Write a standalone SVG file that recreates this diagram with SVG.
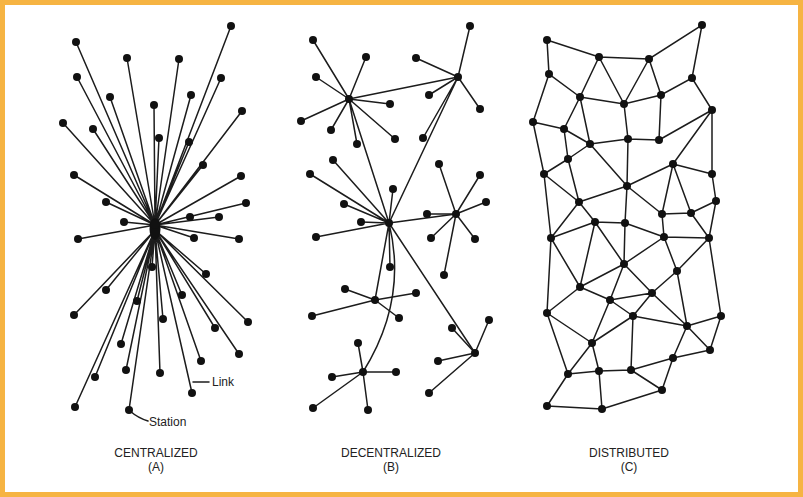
<svg xmlns="http://www.w3.org/2000/svg" width="803" height="497" viewBox="0 0 803 497">
<style>
.e{stroke:#1c1c1c;stroke-width:1.5;fill:none;stroke-linecap:round}
.n circle{fill:#111}
.t{font-family:"Liberation Sans",Arial,sans-serif;font-size:12px;fill:#222;text-anchor:middle}
.l{font-family:"Liberation Sans",Arial,sans-serif;font-size:12px;fill:#222}
</style>
<rect x="0" y="0" width="803" height="497" fill="#F6B443"/>
<rect x="5" y="5" width="793" height="487" fill="#ffffff"/>

<!-- ========== CONNECTORS ========== -->
<g id="connectors" class="e">
<!-- A: centralized -->
<g id="edges-a">
<path d="M155,225L231,26M155,225L76,42M155,225L127,58M155,225L179,59M155,225L77,77M155,225L221,78M155,225L110,97M155,225L191,95M155,225L154,105M155,225L242,111M155,225L63,123M155,225L93,129M155,225L159,138M155,225L189,142M155,225L203,165M155,225L74,175M155,225L241,176M155,225L106,202M155,225L246,203M155,225L124,222M155,225L219,217M155,225L78,239M155,225L194,238M155,225L239,239"/>
<path d="M155,230L152,267M155,230L206,274M155,230L106,290M155,230L137,301M155,230L182,295M155,230L74,315M155,230L163,319M155,230L248,322M155,230L215,328M155,230L121,344M155,230L239,354M155,230L201,361M155,230L126,370M155,230L160,373M155,230L95,377M155,230L192,393M155,230L75,407M155,230L129,410"/>
<path d="M193,382L209,382M130,411Q138,418 148,421"/>
</g>
<!-- B: decentralized -->
<g id="edges-b">
<path d="M349,99L313,40M349,99L366,57M349,99L316,77M349,99L390,104M349,99L301,121M349,99L331,130M349,99L395,139M349,99L357,144M349,99L458,77M349,99L389,223"/>
<path d="M458,77L470,26M458,77L416,58M458,77L429,95M458,77L480,109M458,77L423,138M458,77L389,223"/>
<path d="M389,223L333,160M389,223L310,174M389,223L393,189M389,223L344,204M389,223L361,222M389,223L316,237M389,223L390,267M389,223L456,214M389,223L375,300M389,223L475,353M389,223Q408,300 363,372"/>
<path d="M456,214L439,164M456,214L480,175M456,214L486,202M456,214L427,214M456,214L431,238M456,214L475,239M456,214L444,275"/>
<path d="M375,300L345,289M375,300L416,293M375,300L312,316M375,300L399,318"/>
<path d="M475,353L489,320M475,353L452,328M475,353L438,361M475,353L429,393"/>
<path d="M363,372L358,343M363,372L332,377M363,372L396,372M363,372L313,408M363,372L368,410"/>
</g>
<!-- C: distributed -->
<g id="edges-c">
<path d="M547,40L599,57L649,59L702,25L692,78M547,40L549,74L580,97M549,74L533,122M599,57L580,97M599,57L624,104M649,59L624,104M649,59L661,95M580,97L624,104L661,95L692,78L712,110M580,97L564,129M580,97L590,144M624,104L628,139M661,95L659,140M712,110L659,140M712,110L673,164M712,110L712,174M533,122L564,129M533,122L544,174M564,129L590,144M564,129L568,159M628,139L590,144M628,139L659,140M628,139L627,186M590,144L568,159M590,144L627,186M568,159L544,174M568,159L579,202M673,164L627,186M673,164L662,214M673,164L691,213M673,164L712,174M544,174L579,202M544,174L551,238M712,174L716,201M627,186L579,202M627,186L625,223M627,186L662,214M579,202L595,222M579,202L551,238M716,201L691,213M716,201L709,238M662,214L691,213M662,214L664,237M691,213L709,238M595,222L625,223M625,223L664,237M595,222L551,238"/>
<path d="M664,237L709,238M551,238L580,287M551,238L547,313M595,222L580,287M595,222L624,264M625,223L624,264M664,237L624,264M664,237L677,271M709,238L677,271M709,238L721,316M624,264L580,287M624,264L610,300M624,264L652,293M677,271L652,293M677,271L687,326M580,287L610,300M580,287L547,313M652,293L610,300M652,293L633,316M652,293L687,326M610,300L633,316M610,300L592,343M547,313L592,343M547,313L568,374M633,316L687,326M633,316L592,343M633,316L631,370M721,316L687,326M721,316L710,350M687,326L710,350M687,326L673,358M592,343L568,374M592,343L599,371M710,350L673,358M673,358L631,370M673,358L662,390M568,374L599,371M599,371L631,370M631,370L662,390M568,374L547,406M599,371L602,409M547,406L602,409M602,409L662,390"/>
</g>
</g>

<!-- ========== NODES: A ========== -->
<g id="nodes-a" class="n">
<g id="a-hub"><ellipse cx="155" cy="229" rx="5.5" ry="11" fill="#111"/><circle cx="155" cy="224" r="5"/></g>
<g id="a1"><circle cx="231" cy="26" r="4"/></g>
<g id="a2"><circle cx="76" cy="42" r="4"/></g>
<g id="a3"><circle cx="127" cy="58" r="4"/></g>
<g id="a4"><circle cx="179" cy="59" r="4"/></g>
<g id="a5"><circle cx="77" cy="77" r="4"/></g>
<g id="a6"><circle cx="221" cy="78" r="4"/></g>
<g id="a7"><circle cx="110" cy="97" r="4"/></g>
<g id="a8"><circle cx="191" cy="95" r="4"/></g>
<g id="a9"><circle cx="154" cy="105" r="4"/></g>
<g id="a10"><circle cx="242" cy="111" r="4"/></g>
<g id="a11"><circle cx="63" cy="123" r="4"/></g>
<g id="a12"><circle cx="93" cy="129" r="4"/></g>
<g id="a13"><circle cx="159" cy="138" r="4"/></g>
<g id="a14"><circle cx="189" cy="142" r="4"/></g>
<g id="a15"><circle cx="203" cy="165" r="4"/></g>
<g id="a16"><circle cx="74" cy="175" r="4"/></g>
<g id="a17"><circle cx="241" cy="176" r="4"/></g>
<g id="a18"><circle cx="106" cy="202" r="4"/></g>
<g id="a19"><circle cx="246" cy="203" r="4"/></g>
<g id="a20"><circle cx="124" cy="222" r="4"/></g>
<g id="a21"><circle cx="190" cy="217" r="4"/></g>
<g id="a22"><circle cx="219" cy="217" r="4"/></g>
<g id="a23"><circle cx="78" cy="239" r="4"/></g>
<g id="a24"><circle cx="194" cy="238" r="4"/></g>
<g id="a25"><circle cx="239" cy="239" r="4"/></g>
<g id="a26"><circle cx="152" cy="267" r="4"/></g>
<g id="a27"><circle cx="206" cy="274" r="4"/></g>
<g id="a28"><circle cx="106" cy="290" r="4"/></g>
<g id="a29"><circle cx="137" cy="301" r="4"/></g>
<g id="a30"><circle cx="182" cy="295" r="4"/></g>
<g id="a31"><circle cx="74" cy="315" r="4"/></g>
<g id="a32"><circle cx="163" cy="319" r="4"/></g>
<g id="a33"><circle cx="248" cy="322" r="4"/></g>
<g id="a34"><circle cx="215" cy="328" r="4"/></g>
<g id="a35"><circle cx="121" cy="344" r="4"/></g>
<g id="a36"><circle cx="239" cy="354" r="4"/></g>
<g id="a37"><circle cx="201" cy="361" r="4"/></g>
<g id="a38"><circle cx="126" cy="370" r="4"/></g>
<g id="a39"><circle cx="160" cy="373" r="4"/></g>
<g id="a40"><circle cx="95" cy="377" r="4"/></g>
<g id="a41"><circle cx="192" cy="393" r="4"/></g>
<g id="a42"><circle cx="75" cy="407" r="4"/></g>
<g id="a43"><circle cx="129" cy="410" r="4"/></g>
</g>

<!-- ========== NODES: B ========== -->
<g id="nodes-b" class="n">
<g id="b-hub1"><circle cx="349" cy="99" r="4"/></g>
<g id="b-hub2"><circle cx="458" cy="77" r="4"/></g>
<g id="b-hub3"><circle cx="389" cy="223" r="4"/></g>
<g id="b-hub4"><circle cx="456" cy="214" r="4"/></g>
<g id="b-hub5"><circle cx="375" cy="300" r="4"/></g>
<g id="b-hub6"><circle cx="475" cy="353" r="4"/></g>
<g id="b-hub7"><circle cx="363" cy="372" r="4"/></g>
<g id="b1"><circle cx="313" cy="40" r="4"/></g>
<g id="b2"><circle cx="366" cy="57" r="4"/></g>
<g id="b3"><circle cx="316" cy="77" r="4"/></g>
<g id="b4"><circle cx="390" cy="104" r="4"/></g>
<g id="b5"><circle cx="301" cy="121" r="4"/></g>
<g id="b6"><circle cx="331" cy="130" r="4"/></g>
<g id="b7"><circle cx="395" cy="139" r="4"/></g>
<g id="b8"><circle cx="357" cy="144" r="4"/></g>
<g id="b9"><circle cx="470" cy="26" r="4"/></g>
<g id="b10"><circle cx="416" cy="58" r="4"/></g>
<g id="b11"><circle cx="429" cy="95" r="4"/></g>
<g id="b12"><circle cx="480" cy="109" r="4"/></g>
<g id="b13"><circle cx="423" cy="138" r="4"/></g>
<g id="b14"><circle cx="333" cy="160" r="4"/></g>
<g id="b15"><circle cx="310" cy="174" r="4"/></g>
<g id="b16"><circle cx="393" cy="189" r="4"/></g>
<g id="b17"><circle cx="344" cy="204" r="4"/></g>
<g id="b18"><circle cx="361" cy="222" r="4"/></g>
<g id="b19"><circle cx="316" cy="237" r="4"/></g>
<g id="b20"><circle cx="390" cy="267" r="4"/></g>
<g id="b21"><circle cx="439" cy="164" r="4"/></g>
<g id="b22"><circle cx="480" cy="175" r="4"/></g>
<g id="b23"><circle cx="486" cy="202" r="4"/></g>
<g id="b24"><circle cx="427" cy="214" r="4"/></g>
<g id="b25"><circle cx="431" cy="238" r="4"/></g>
<g id="b26"><circle cx="475" cy="239" r="4"/></g>
<g id="b27"><circle cx="444" cy="275" r="4"/></g>
<g id="b28"><circle cx="345" cy="289" r="4"/></g>
<g id="b29"><circle cx="416" cy="293" r="4"/></g>
<g id="b30"><circle cx="312" cy="316" r="4"/></g>
<g id="b31"><circle cx="399" cy="318" r="4"/></g>
<g id="b32"><circle cx="489" cy="320" r="4"/></g>
<g id="b33"><circle cx="452" cy="328" r="4"/></g>
<g id="b34"><circle cx="438" cy="361" r="4"/></g>
<g id="b35"><circle cx="429" cy="393" r="4"/></g>
<g id="b36"><circle cx="358" cy="343" r="4"/></g>
<g id="b37"><circle cx="332" cy="377" r="4"/></g>
<g id="b38"><circle cx="396" cy="372" r="4"/></g>
<g id="b39"><circle cx="313" cy="408" r="4"/></g>
<g id="b40"><circle cx="368" cy="410" r="4"/></g>
</g>

<!-- ========== NODES: C ========== -->
<g id="nodes-c" class="n">
<g id="c1"><circle cx="547" cy="40" r="4"/></g>
<g id="c2"><circle cx="599" cy="57" r="4"/></g>
<g id="c3"><circle cx="649" cy="59" r="4"/></g>
<g id="c4"><circle cx="702" cy="25" r="4"/></g>
<g id="c5"><circle cx="549" cy="74" r="4"/></g>
<g id="c6"><circle cx="692" cy="78" r="4"/></g>
<g id="c7"><circle cx="580" cy="97" r="4"/></g>
<g id="c8"><circle cx="624" cy="104" r="4"/></g>
<g id="c9"><circle cx="661" cy="95" r="4"/></g>
<g id="c10"><circle cx="712" cy="110" r="4"/></g>
<g id="c11"><circle cx="533" cy="122" r="4"/></g>
<g id="c12"><circle cx="564" cy="129" r="4"/></g>
<g id="c13"><circle cx="628" cy="139" r="4"/></g>
<g id="c14"><circle cx="659" cy="140" r="4"/></g>
<g id="c15"><circle cx="590" cy="144" r="4"/></g>
<g id="c16"><circle cx="568" cy="159" r="4"/></g>
<g id="c17"><circle cx="673" cy="164" r="4"/></g>
<g id="c18"><circle cx="544" cy="174" r="4"/></g>
<g id="c19"><circle cx="712" cy="174" r="4"/></g>
<g id="c20"><circle cx="627" cy="186" r="4"/></g>
<g id="c21"><circle cx="579" cy="202" r="4"/></g>
<g id="c22"><circle cx="716" cy="201" r="4"/></g>
<g id="c23"><circle cx="662" cy="214" r="4"/></g>
<g id="c24"><circle cx="691" cy="213" r="4"/></g>
<g id="c25"><circle cx="595" cy="222" r="4"/></g>
<g id="c26"><circle cx="625" cy="223" r="4"/></g>
<g id="c27"><circle cx="551" cy="238" r="4"/></g>
<g id="c28"><circle cx="664" cy="237" r="4"/></g>
<g id="c29"><circle cx="709" cy="238" r="4"/></g>
<g id="c30"><circle cx="624" cy="264" r="4"/></g>
<g id="c31"><circle cx="677" cy="271" r="4"/></g>
<g id="c32"><circle cx="580" cy="287" r="4"/></g>
<g id="c33"><circle cx="652" cy="293" r="4"/></g>
<g id="c34"><circle cx="610" cy="300" r="4"/></g>
<g id="c35"><circle cx="547" cy="313" r="4"/></g>
<g id="c36"><circle cx="633" cy="316" r="4"/></g>
<g id="c37"><circle cx="721" cy="316" r="4"/></g>
<g id="c38"><circle cx="687" cy="326" r="4"/></g>
<g id="c39"><circle cx="592" cy="343" r="4"/></g>
<g id="c40"><circle cx="710" cy="350" r="4"/></g>
<g id="c41"><circle cx="673" cy="358" r="4"/></g>
<g id="c42"><circle cx="568" cy="374" r="4"/></g>
<g id="c43"><circle cx="599" cy="371" r="4"/></g>
<g id="c44"><circle cx="631" cy="370" r="4"/></g>
<g id="c45"><circle cx="662" cy="390" r="4"/></g>
<g id="c46"><circle cx="547" cy="406" r="4"/></g>
<g id="c47"><circle cx="602" cy="409" r="4"/></g>
</g>

<!-- ========== LABELS ========== -->
<g id="labels">
<text class="l" x="212" y="386">Link</text>
<text class="l" x="149" y="426">Station</text>
<text class="t" x="156" y="457">CENTRALIZED</text>
<text class="t" x="156" y="471">(A)</text>
<text class="t" x="391" y="457">DECENTRALIZED</text>
<text class="t" x="391" y="471">(B)</text>
<text class="t" x="629" y="457">DISTRIBUTED</text>
<text class="t" x="629" y="471">(C)</text>
</g>
</svg>
